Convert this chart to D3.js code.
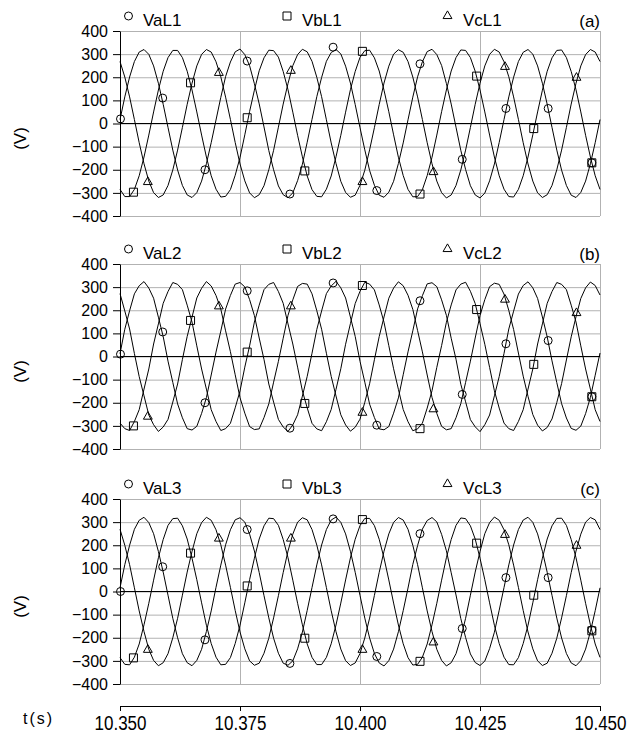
<!DOCTYPE html>
<html>
<head>
<meta charset="utf-8">
<script src="https://cdn.jsdelivr.net/npm/d3@7"></script>
<style>
  body { margin: 0; background: #fff; }
  text { font-family: Arial, "Liberation Sans", sans-serif; fill: #000; }
</style>
</head>
<body>
<div id="chart"></div>
<script>
/* global d3 */

// Sampling of the traces (s)
const sampleStart = 10.350,
  sampleStep = 0.001

// Axis ticks
const xTicks = [10.350, 10.375, 10.400, 10.425, 10.450]
const yTicks = [-400, -300, -200, -100, 0, 100, 200, 300, 400]

// Panel (a)
const vaL1 = [17, 115, 201, 268, 309, 320, 299, 249, 174, 83, -17, -115, -201, -268, -309, -320, -299, -249, -174, -83,
  15, 113, 203, 266, 310, 322, 298, 250, 172, 85, -15, -117, -200, -270, -308, -321, -300, -247, -176, -81,
  18, 116, 199, 269, 307, 320, 301, 248, 175, 82, -18, -114, -203, -267, -310, -319, -297, -250, -173, -84,
  16, 114, 202, 267, 311, 321, 298, 251, 173, 84, -16, -116, -199, -269, -309, -322, -301, -248, -175, -82,
  17, 115, 200, 268, 308, 320, 300, 249, 174, 83, -17, -115, -202, -268, -310, -320, -298, -249, -174, -83,
  17]
const vbL1 = [-285, -316, -316, -285, -226, -145, -50, 50, 145, 226, 285, 316, 316, 285, 226, 145, 50, -50, -145, -226,
  -284, -318, -315, -286, -224, -147, -49, 52, 144, 228, 284, 317, 315, 287, 225, 146, 49, -51, -144, -227,
  -286, -315, -317, -284, -227, -144, -51, 49, 146, 225, 286, 315, 317, 284, 227, 144, 51, -49, -146, -225,
  -285, -317, -316, -286, -225, -146, -50, 51, 145, 227, 285, 318, 316, 285, 226, 145, 50, -50, -145, -226,
  -284, -316, -318, -285, -226, -145, -49, 50, 144, 226, 284, 316, 318, 285, 225, 146, 50, -51, -145, -226,
  -285]
const vcL1 = [268, 201, 115, 17, -83, -174, -249, -299, -320, -309, -268, -201, -115, -17, 83, 174, 249, 299, 320, 309,
  267, 202, 114, 18, -82, -175, -248, -300, -321, -308, -269, -200, -116, -16, 84, 173, 250, 298, 321, 310,
  269, 200, 116, 16, -84, -173, -250, -298, -319, -310, -267, -202, -114, -18, 82, 175, 248, 300, 319, 308,
  268, 201, 115, 17, -83, -174, -249, -299, -322, -309, -268, -201, -115, -17, 83, 174, 249, 299, 321, 309,
  267, 202, 115, 18, -83, -175, -249, -300, -320, -308, -268, -200, -115, -17, 84, 174, 249, 298, 320, 309,
  268]

// Panel (b)
const vaL2 = [12, 118, 198, 271, 306, 324, 296, 252, 170, 86, -20, -112, -205, -265, -312, -318, -302, -246, -178, -80,
  19, 110, 205, 264, 313, 320, 301, 246, 177, 80, -13, -119, -197, -272, -305, -324, -296, -252, -171, -86,
  14, 117, 197, 272, 305, 325, 297, 253, 171, 87, -21, -111, -206, -264, -313, -317, -303, -245, -179, -79,
  20, 111, 206, 263, 314, 319, 302, 245, 178, 79, -12, -120, -196, -273, -304, -325, -295, -253, -170, -87,
  13, 119, 196, 270, 307, 323, 297, 251, 171, 85, -19, -113, -204, -266, -311, -319, -301, -247, -177, -81,
  15]
const vbL2 = [-288, -312, -320, -281, -230, -141, -54, 54, 141, 230, 281, 320, 312, 289, 222, 149, 46, -54, -141, -230,
  -281, -320, -312, -289, -222, -149, -46, 46, 149, 222, 289, 312, 320, 281, 230, 141, 54, -46, -149, -222,
  -289, -313, -321, -282, -229, -142, -53, 53, 142, 229, 282, 321, 313, 288, 223, 148, 47, -53, -142, -229,
  -282, -321, -313, -288, -223, -148, -47, 47, 148, 223, 288, 313, 321, 282, 229, 142, 53, -47, -148, -223,
  -288, -312, -320, -281, -230, -141, -54, 54, 141, 230, 281, 320, 312, 289, 222, 149, 46, -54, -141, -230,
  -281]
const vcL2 = [272, 197, 119, 13, -87, -170, -253, -295, -324, -305, -272, -197, -119, -13, 87, 170, 253, 295, 324, 305,
  264, 205, 111, 21, -79, -178, -245, -303, -316, -313, -264, -205, -111, -21, 79, 178, 245, 303, 316, 313,
  271, 198, 118, 14, -86, -171, -252, -296, -323, -306, -271, -198, -118, -14, 86, 171, 252, 296, 323, 306,
  265, 204, 112, 20, -80, -177, -246, -302, -317, -312, -265, -204, -112, -20, 80, 177, 246, 302, 317, 312,
  270, 199, 117, 15, -85, -172, -251, -297, -322, -307, -270, -199, -117, -15, 85, 172, 251, 297, 322, 307,
  266]

// Panel (c)
const vaL3 = [16, 116, 200, 269, 308, 321, 298, 250, 173, 84, -16, -116, -200, -269, -308, -321, -298, -250, -173, -84,
  18, 114, 202, 267, 310, 319, 300, 248, 175, 82, -18, -114, -202, -267, -310, -319, -300, -248, -175, -82,
  17, 115, 201, 268, 309, 322, 299, 249, 174, 83, -17, -115, -201, -268, -309, -322, -299, -249, -174, -83,
  15, 117, 199, 270, 307, 320, 301, 247, 176, 81, -15, -117, -199, -270, -307, -320, -301, -247, -176, -81,
  17, 115, 201, 268, 309, 321, 299, 249, 174, 83, -17, -115, -201, -268, -309, -321, -299, -249, -174, -83,
  16]
const vbL3 = [-286, -315, -317, -284, -227, -144, -51, 49, 146, 225, 286, 315, 317, 284, 227, 144, 51, -49, -146, -225,
  -284, -317, -315, -286, -225, -146, -49, 51, 144, 227, 284, 317, 315, 286, 225, 146, 49, -51, -144, -227,
  -285, -316, -316, -285, -226, -145, -50, 50, 145, 226, 285, 316, 316, 285, 226, 145, 50, -50, -145, -226,
  -286, -318, -315, -284, -227, -144, -51, 49, 146, 225, 286, 318, 315, 284, 227, 144, 51, -49, -146, -225,
  -284, -316, -317, -286, -225, -146, -49, 51, 144, 227, 284, 316, 317, 286, 225, 146, 49, -51, -144, -227,
  -285]
const vcL3 = [269, 200, 116, 16, -84, -173, -250, -298, -321, -308, -269, -200, -116, -16, 84, 173, 250, 298, 321, 308,
  267, 202, 114, 18, -82, -175, -248, -300, -319, -310, -267, -202, -114, -18, 82, 175, 248, 300, 319, 310,
  268, 201, 115, 17, -83, -174, -249, -299, -320, -309, -268, -201, -115, -17, 83, 174, 249, 299, 320, 309,
  269, 200, 116, 16, -84, -173, -250, -298, -322, -308, -269, -200, -116, -16, 84, 173, 250, 298, 322, 308,
  267, 202, 114, 18, -82, -175, -248, -300, -320, -310, -267, -202, -114, -18, 82, 175, 248, 300, 320, 310,
  268]

// Marker times (same in all panels)
const circleTimes = [10.3501, 10.3589, 10.3677, 10.3765, 10.3854, 10.3944, 10.4035, 10.4125, 10.4213, 10.4304, 10.4392, 10.4483]
const squareTimes = [10.3528, 10.3647, 10.3765, 10.3885, 10.4005, 10.4125, 10.4243, 10.4362, 10.4483]
const triangleTimes = [10.3558, 10.3706, 10.3856, 10.4005, 10.4153, 10.4302, 10.4451]

// Marker values
const circlesL1 = [20, 110, -200, 270, -305, 330, -290, 258, -155, 65, 65, -170]
const squaresL1 = [-297, 176, 25, -205, 312, -305, 205, -22, -170]
const trianglesL1 = [-253, 219, 228, -253, -210, 245, 198]
const circlesL2 = [10, 106, -200, 284, -310, 318, -297, 241, -164, 55, 69, -174]
const squaresL2 = [-300, 156, 19, -203, 307, -312, 203, -34, -174]
const trianglesL2 = [-260, 217, 217, -243, -228, 246, 188]
const circlesL3 = [0, 107, -209, 268, -311, 314, -281, 250, -160, 60, 60, -166]
const squaresL3 = [-287, 166, 24, -202, 311, -302, 209, -16, -170]
const trianglesL3 = [-252, 229, 229, -252, -220, 245, 198]

// Panel names and legend labels
const panelTags = ['(a)', '(b)', '(c)']
const legendL1 = ['VaL1', 'VbL1', 'VcL1']
const legendL2 = ['VaL2', 'VbL2', 'VcL2']
const legendL3 = ['VaL3', 'VbL3', 'VcL3']

// Our canvas
const width = 629,
  height = 735,
  plotLeft = 120,
  plotRight = 600,
  plotHeight = 185,
  panelTops = [31, 264, 499],
  axisY = 706,
  gridColor = '#b2b2b2'

let panels = [
  {tag: panelTags[0], names: legendL1, series: [vaL1, vbL1, vcL1], marks: [circlesL1, squaresL1, trianglesL1]},
  {tag: panelTags[1], names: legendL2, series: [vaL2, vbL2, vcL2], marks: [circlesL2, squaresL2, trianglesL2]},
  {tag: panelTags[2], names: legendL3, series: [vaL3, vbL3, vcL3], marks: [circlesL3, squaresL3, trianglesL3]}
]
const markTimes = [circleTimes, squareTimes, triangleTimes]
const symbols = [d3.symbol().type(d3.symbolCircle).size(50),
  d3.symbol().type(d3.symbolSquare).size(64),
  d3.symbol().type(d3.symbolTriangle).size(34)]

let svg = d3.select('#chart')
  .append('svg')
  .attr('width', width)
  .attr('height', height)

let x = d3.scaleLinear()
  .domain([10.350, 10.450])
  .range([plotLeft, plotRight])

let drawPanel = (p, i) => {
  let top = panelTops[i]
  let y = d3.scaleLinear()
    .domain([-400, 400])
    .range([top + plotHeight, top])
  let g = svg.append('g')

  // grid
  g.append('g')
    .attr('transform', `translate(${plotLeft},0)`)
    .call(d3.axisLeft(y).tickValues(yTicks).tickSize(-(plotRight - plotLeft)).tickFormat(''))
    .call(a => a.select('.domain').remove())
    .call(a => a.selectAll('line').attr('stroke', gridColor))
  g.append('g')
    .attr('transform', `translate(0,${top + plotHeight})`)
    .call(d3.axisBottom(x).tickValues(xTicks).tickSize(-plotHeight).tickFormat(''))
    .call(a => a.select('.domain').remove())
    .call(a => a.selectAll('line').attr('stroke', gridColor))

  // zero line
  g.append('line')
    .attr('x1', plotLeft)
    .attr('x2', plotRight)
    .attr('y1', y(0))
    .attr('y2', y(0))
    .attr('stroke', '#000')

  // y axis
  g.append('g')
    .attr('transform', `translate(${plotLeft},0)`)
    .call(d3.axisLeft(y).tickValues(yTicks).tickSize(7).tickSizeOuter(0).tickPadding(5))
    .call(a => a.selectAll('text').style('font-size', '16px').style('font-family', 'Arial, "Liberation Sans", sans-serif'))

  // traces
  let line = d3.line()
    .x((d, k) => x(sampleStart + k * sampleStep))
    .y(d => y(d))
  p.series.forEach(s => {
    g.append('path')
      .datum(s)
      .attr('d', line)
      .attr('fill', 'none')
      .attr('stroke', '#000')
      .attr('stroke-width', 1)
  })

  // markers
  p.marks.forEach((vals, m) => {
    g.selectAll(null)
      .data(vals)
      .enter()
      .append('path')
      .attr('d', symbols[m])
      .attr('transform', (d, k) => `translate(${x(markTimes[m][k])},${y(d)})`)
      .attr('fill', 'none')
      .attr('stroke', '#000')
  })

  // legend
  let legendX = [128.5, 287, 447.5]
  let textX = [143, 302, 463]
  p.names.forEach((name, m) => {
    g.append('path')
      .attr('d', symbols[m])
      .attr('transform', `translate(${legendX[m]},${top - 15})`)
      .attr('fill', 'none')
      .attr('stroke', '#000')
    g.append('text')
      .attr('x', textX[m])
      .attr('y', top - 5)
      .style('font-size', '17px')
      .text(name)
  })
  g.append('text')
    .attr('x', plotRight)
    .attr('y', top - 4)
    .attr('text-anchor', 'end')
    .style('font-size', '17px')
    .text(p.tag)

  // unit label
  g.append('text')
    .attr('transform', `translate(20,${top + plotHeight / 2 + 15}) rotate(-90)`)
    .attr('text-anchor', 'middle')
    .attr('dy', '0.35em')
    .style('font-size', '17px')
    .text('(V)')
}

panels.forEach(drawPanel)

// time axis
svg.append('g')
  .attr('transform', `translate(0,${axisY})`)
  .call(d3.axisBottom(x).tickValues(xTicks).tickSize(5).tickSizeOuter(0).tickPadding(4).tickFormat(d3.format('.3f')))
  .call(a => a.selectAll('text')
    .style('font-size', '21px')
    .style('font-family', 'Arial, "Liberation Sans", sans-serif')
    .attr('transform', 'scale(0.81,1)'))

svg.append('text')
  .attr('x', 23)
  .attr('y', 724)
  .style('font-size', '16px')
  .style('letter-spacing', '2px')
  .text('t(s)')
</script>
</body>
</html>
